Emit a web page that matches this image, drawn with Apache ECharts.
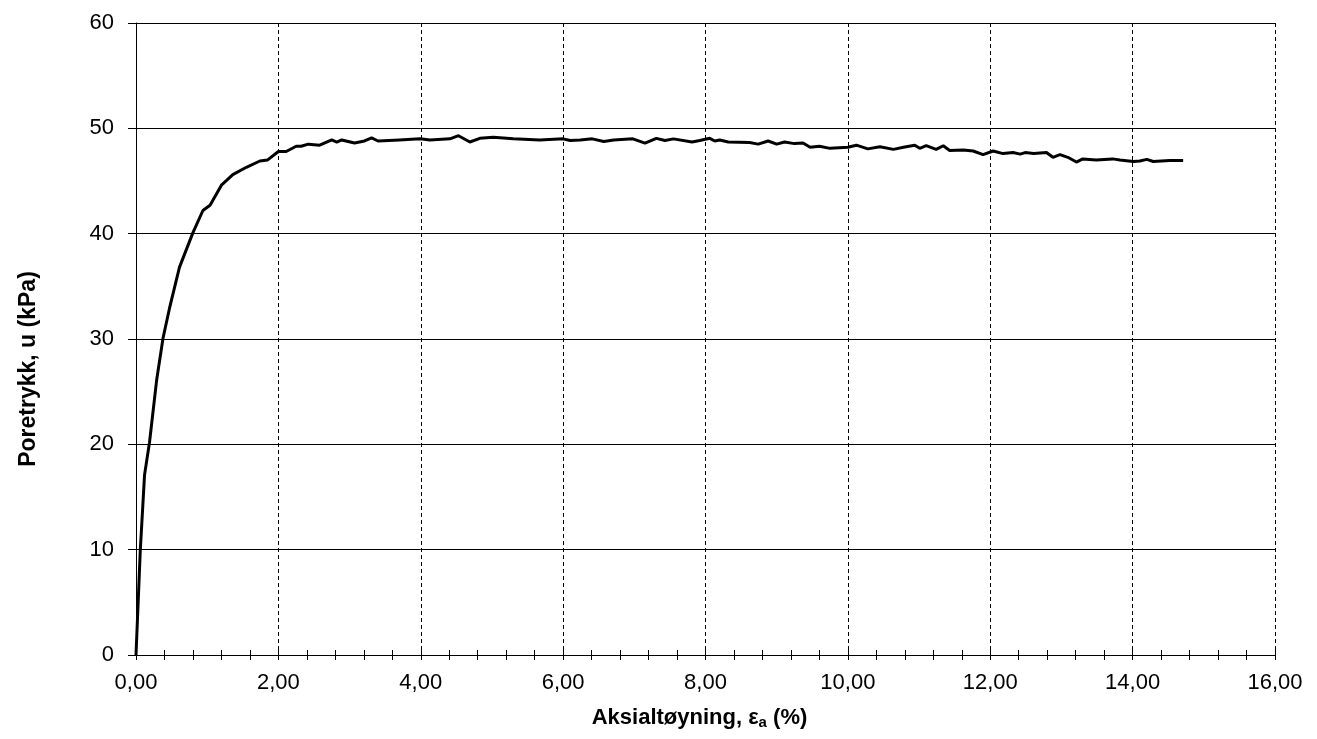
<!DOCTYPE html>
<html>
<head>
<meta charset="utf-8">
<script src="https://cdn.jsdelivr.net/npm/echarts@6/dist/echarts.min.js"></script>
<style>
  html, body { margin: 0; padding: 0; background: #fff; }
  #main { width: 1317px; height: 739px; }
</style>
</head>
<body>
<div id="main"></div>
<script>
// aksialtøyning (%) og poretrykk (kPa), lest av figuren
const strain = [
  0, 0.06, 0.12, 0.19, 0.29, 0.38, 0.47, 0.61, 0.80, 0.94, 1.04, 1.20, 1.36, 1.55, 1.74, 1.85,
  2.00, 2.11, 2.25, 2.32, 2.42, 2.58, 2.75, 2.82, 2.89, 3.07, 3.21, 3.31, 3.40, 3.70, 3.99,
  4.13, 4.41, 4.53, 4.69, 4.83, 5.02, 5.30, 5.67, 6.00, 6.10, 6.24, 6.41, 6.57, 6.71, 6.98,
  7.15, 7.31, 7.43, 7.55, 7.81, 7.92, 8.06, 8.13, 8.20, 8.32, 8.62, 8.74, 8.88, 9.00, 9.11,
  9.25, 9.37, 9.47, 9.60, 9.75, 10.00, 10.12, 10.28, 10.45, 10.64, 10.78, 10.94, 11.01, 11.10,
  11.24, 11.34, 11.43, 11.62, 11.76, 11.90, 12.04, 12.18, 12.32, 12.42, 12.49, 12.61, 12.79,
  12.88, 12.98, 13.09, 13.21, 13.30, 13.49, 13.72, 13.82, 14.01, 14.10, 14.20, 14.29, 14.52, 14.71
];
const porePressure = [
  0, 9.9, 17.1, 20.2, 26.1, 30.1, 32.9, 36.8, 40.1, 42.2, 42.7, 44.6, 45.6, 46.3, 46.9, 47.0,
  47.8, 47.8, 48.3, 48.3, 48.5, 48.4, 48.9, 48.7, 48.9, 48.6, 48.8, 49.1, 48.8, 48.9, 49.0,
  48.9, 49.0, 49.3, 48.7, 49.05, 49.15, 49.0, 48.9, 49.0, 48.85, 48.9, 49.0, 48.75, 48.9, 49.0,
  48.6, 49.05, 48.85, 49.0, 48.7, 48.85, 49.05, 48.8, 48.9, 48.7, 48.65, 48.5, 48.8, 48.5, 48.7,
  48.55, 48.6, 48.2, 48.3, 48.1, 48.2, 48.4, 48.05, 48.25, 48.0, 48.2, 48.4, 48.1, 48.35,
  48.0, 48.35, 47.9, 47.95, 47.85, 47.5, 47.85, 47.6, 47.7, 47.55, 47.7, 47.6, 47.7,
  47.25, 47.5, 47.25, 46.8, 47.1, 47.0, 47.1, 47.0, 46.85, 46.9, 47.05, 46.85, 46.95, 46.95
];

let myChart = echarts.init(document.getElementById("main"));
const font = "'Liberation Sans', Arial, sans-serif";

let series = [
  {
    type: 'line',
    xAxisIndex: 0,
    data: strain.map((x, i) => [x, porePressure[i]]),
    showSymbol: false,
    smooth: false,
    lineStyle: { color: '#000', width: 3 },
    animation: false
  }
];

let option = {
  backgroundColor: '#fff',
  grid: { left: 136, right: 42, top: 23, bottom: 84, containLabel: false },
  xAxis: [
    {
      type: 'value',
      min: 0, max: 16, interval: 2,
      name: '{b|Aksialtøyning, ε}{s|a}{b| (%)}',
      nameLocation: 'middle',
      nameGap: 50,
      nameTextStyle: {
        padding: [0, 12, 0, 0],
        rich: {
          b: { fontFamily: font, fontSize: 22, fontWeight: 'bold', color: '#000' },
          s: { fontFamily: font, fontSize: 15, fontWeight: 'bold', color: '#000', verticalAlign: 'bottom', padding: [10, 0, 0, 0] }
        }
      },
      axisLine: { onZero: false, lineStyle: { color: '#000', width: 1 } },
      axisTick: { show: true, inside: false, length: 5, lineStyle: { color: '#000' } },
      minorTick: { show: true, splitNumber: 5, length: 5, lineStyle: { color: '#000' } },
      splitLine: { show: true, lineStyle: { color: '#000', type: [4, 3], width: 1 } },
      axisLabel: {
        fontFamily: font, fontSize: 22, color: '#000', margin: 17,
        formatter: v => v.toFixed(2).replace('.', ',')
      }
    },
    {
      // samme akse, bare for tikkene som går opp i plottet
      type: 'value',
      position: 'bottom',
      min: 0, max: 16, interval: 2,
      axisLine: { show: false },
      axisTick: { show: true, inside: true, length: 5, lineStyle: { color: '#000' } },
      minorTick: { show: true, splitNumber: 5, length: 5, lineStyle: { color: '#000' } },
      splitLine: { show: false },
      axisLabel: { show: false }
    }
  ],
  yAxis: {
    type: 'value',
    min: 0, max: 60, interval: 10,
    name: 'Poretrykk, u (kPa)',
    nameLocation: 'middle',
    nameGap: 96,
    nameTextStyle: { fontFamily: font, fontSize: 23, fontWeight: 'bold', color: '#000', padding: [0, 60, 0, 0] },
    axisLine: { show: true, lineStyle: { color: '#000', width: 1 } },
    axisTick: { show: true, inside: false, length: 8, lineStyle: { color: '#000' } },
    splitLine: { show: true, lineStyle: { color: '#000', width: 1 } },
    axisLabel: { fontFamily: font, fontSize: 22, color: '#000', margin: 22 }
  },
  series: series
};
myChart.setOption(option);
</script>
</body>
</html>
